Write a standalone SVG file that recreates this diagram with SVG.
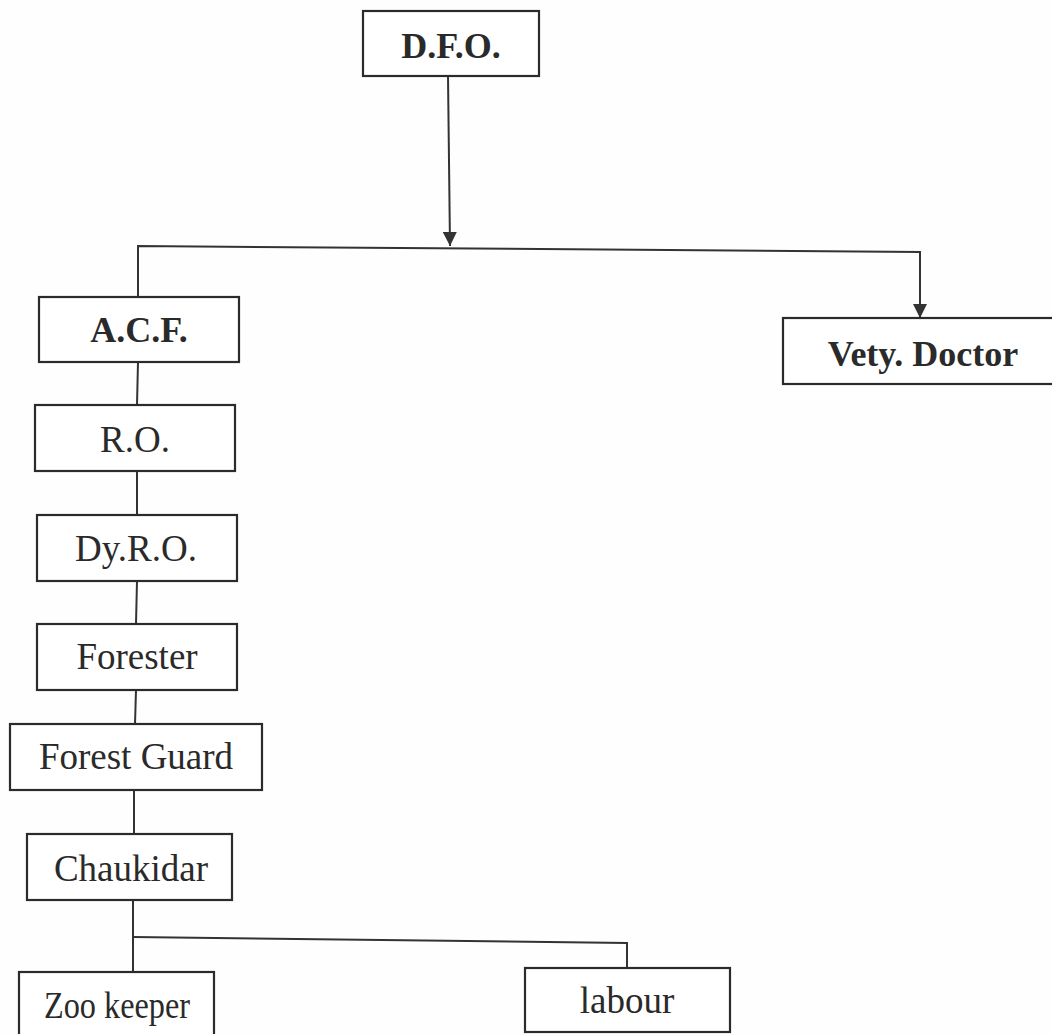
<svg xmlns="http://www.w3.org/2000/svg" width="1052" height="1034" viewBox="0 0 1052 1034">
<style>
.box{fill:#fff;stroke:#2b2b2b;stroke-width:2.2}
.t{font-family:"Liberation Serif","Times New Roman",serif;font-size:37px;fill:#2a2a2a;text-anchor:middle}
.b{font-weight:bold;font-size:36px}
.c{fill:none;stroke:#333;stroke-width:2}
</style>
<defs>
<marker id="arr" viewBox="0 0 10 10" refX="10" refY="5" markerWidth="14" markerHeight="14" markerUnits="userSpaceOnUse" orient="auto">
<path d="M0,0 L10,5 L0,10 Z" fill="#333"/>
</marker>
</defs>
<rect width="1052" height="1034" fill="#fefefe"/>
<g id="connectors">
<line class="c" x1="448" y1="76" x2="450" y2="246" marker-end="url(#arr)"/>
<polyline class="c" points="138,297 138,246 920,252 920,318" marker-end="url(#arr)"/>
<line class="c" x1="138" y1="362" x2="137" y2="405"/>
<line class="c" x1="137" y1="471" x2="137" y2="515"/>
<line class="c" x1="137" y1="581" x2="136" y2="624"/>
<line class="c" x1="136" y1="690" x2="135" y2="724"/>
<line class="c" x1="134" y1="790" x2="134" y2="834"/>
<polyline class="c" points="133,900 133,972"/>
<polyline class="c" points="133,937 627,943 627,968"/>
</g>
<g id="dfo"><rect class="box" x="363" y="11" width="176" height="65"/><text class="t b" x="451" y="58">D.F.O.</text></g>
<g id="acf"><rect class="box" x="39" y="297" width="200" height="65"/><text class="t b" x="139" y="342">A.C.F.</text></g>
<g id="vety"><rect class="box" x="783" y="318" width="280" height="66"/><text class="t b" x="923" y="366">Vety. Doctor</text></g>
<g id="ro"><rect class="box" x="35" y="405" width="200" height="66"/><text class="t" x="135" y="452">R.O.</text></g>
<g id="dyro"><rect class="box" x="37" y="515" width="200" height="66"/><text class="t" x="136" y="561">Dy.R.O.</text></g>
<g id="forester"><rect class="box" x="37" y="624" width="200" height="66"/><text class="t" x="137" y="669">Forester</text></g>
<g id="guard"><rect class="box" x="10" y="724" width="252" height="66"/><text class="t" x="136" y="769">Forest Guard</text></g>
<g id="chaukidar"><rect class="box" x="27" y="834" width="205" height="66"/><text class="t" x="131" y="881">Chaukidar</text></g>
<g id="zookeeper"><rect class="box" x="19" y="972" width="195" height="80"/><text class="t" x="117" y="1018" textLength="146" lengthAdjust="spacingAndGlyphs">Zoo keeper</text></g>
<g id="labour"><rect class="box" x="525" y="968" width="205" height="64"/><text class="t" x="627" y="1013">labour</text></g>
</svg>
